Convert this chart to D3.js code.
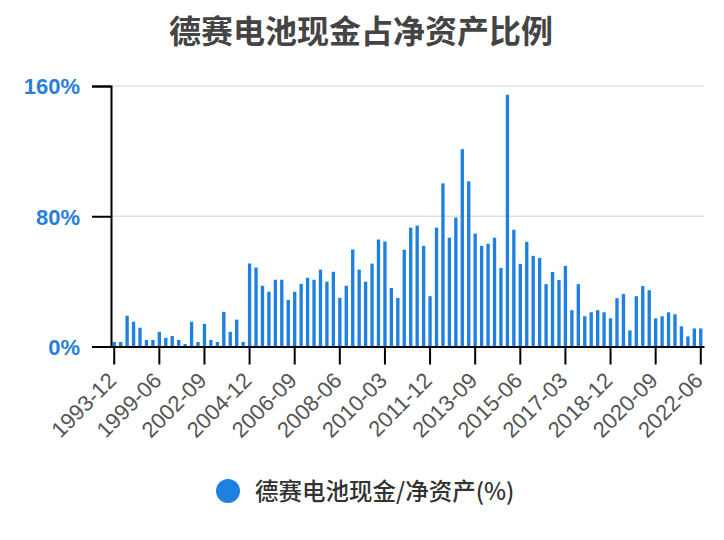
<!DOCTYPE html>
<html><head><meta charset="utf-8">
<script src="https://cdn.jsdelivr.net/npm/d3@7/dist/d3.min.js"></script>
<style>
body{margin:0;background:#fff;}
svg{display:block;font-family:"Liberation Sans","Noto Sans CJK SC",Arial,sans-serif;}
</style></head><body>
<svg id="chart" width="724" height="540"></svg>
<script>
const title = "德赛电池现金占净资产比例";
const seriesName = "德赛电池现金/净资产(%)";
const categories = [
"1993-12","1994-12","1995-12","1996-12","1997-12","1998-06","1998-12","1999-06","1999-12","2000-06",
"2000-12","2001-06","2001-12","2002-06","2002-09","2002-12","2003-06","2003-09","2003-12","2004-06",
"2004-09","2004-12","2005-03","2005-06","2005-09","2005-12","2006-03","2006-06","2006-09","2006-12",
"2007-03","2007-06","2007-09","2007-12","2008-03","2008-06","2008-09","2008-12","2009-03","2009-06",
"2009-09","2009-12","2010-03","2010-06","2010-09","2010-12","2011-03","2011-06","2011-09","2011-12",
"2012-03","2012-06","2012-09","2012-12","2013-03","2013-06","2013-09","2013-12","2014-03","2014-06",
"2014-09","2014-12","2015-03","2015-06","2015-09","2015-12","2016-03","2016-06","2016-09","2016-12",
"2017-03","2017-06","2017-09","2017-12","2018-03","2018-06","2018-09","2018-12","2019-03","2019-06",
"2019-09","2019-12","2020-03","2020-06","2020-09","2020-12","2021-03","2021-06","2021-09","2021-12",
"2022-03","2022-06"];
const values = [
2.8,2.8,18.9,15.2,11.5,4.0,4.0,9.0,5.3,6.5,
4.0,1.5,15.2,2.8,13.9,4.0,2.8,21.3,9.0,16.5,
2.8,51.0,48.5,37.3,33.6,41.0,41.0,28.6,33.6,38.5,
42.2,41.0,47.2,39.8,45.9,29.9,37.3,59.6,47.2,39.8,
50.9,65.7,64.5,36.0,29.8,59.4,73.0,74.2,61.8,30.9,
73.0,100.2,66.8,79.2,121.2,101.4,69.3,61.8,63.1,66.8,
48.2,154.6,71.7,50.7,64.3,55.7,54.4,38.3,45.8,40.8,
49.5,22.3,38.3,18.6,21.0,22.3,21.0,17.3,29.7,32.2,
9.9,30.9,37.1,34.6,17.3,18.6,21.0,19.8,12.4,6.2,
11.1,11.1];
const yTicks = [0,80,160];
const xTickLabels = ["1993-12","1999-06","2002-09","2004-12","2006-09","2008-06","2010-03","2011-12","2013-09","2015-06","2017-03","2018-12","2020-09","2022-06"];

const svg = d3.select("#chart");
const mLeft = 111, mRight = 704, mTop = 86, mBottom = 346.5;
const blue = "#2080e0";

const x = d3.scaleBand().domain(categories).range([mLeft, mRight]).paddingInner(0.48).paddingOuter(0.24);
const y = d3.scaleLinear().domain([0,160]).range([mBottom, mTop]);

// title
svg.append("text").attr("x",361).attr("y",43).attr("text-anchor","middle")
  .attr("font-family","'Noto Sans CJK SC',sans-serif").attr("font-weight","bold")
  .attr("font-size",32).attr("fill","#444").text(title);

// gridlines
svg.append("g").selectAll("line").data(yTicks.filter(d=>d>0)).join("line")
  .attr("x1",mLeft).attr("x2",mRight).attr("y1",d=>y(d)).attr("y2",d=>y(d))
  .attr("stroke","#e0e0e0").attr("stroke-width",1.5);

// bars
svg.append("g").selectAll("rect").data(values).join("rect")
  .attr("x",(d,i)=>x(categories[i])).attr("width",x.bandwidth())
  .attr("y",d=>y(d)).attr("height",d=>mBottom-y(d)).attr("fill",blue);

// y axis
const yAxis = d3.axisLeft(y).tickValues(yTicks).tickSize(19).tickPadding(12).tickFormat(d=>d+"%");
const gy = svg.append("g").attr("transform",`translate(${mLeft},0)`).call(yAxis);
gy.select(".domain").attr("stroke","#000").attr("stroke-width",2);
gy.selectAll(".tick line").attr("stroke","#000").attr("stroke-width",2);
gy.selectAll(".tick text").attr("fill","#2a7fd6").attr("font-size",22).attr("font-weight","bold")
  .attr("font-family","'Liberation Sans',Arial,sans-serif").attr("dy","0.36em");

// x axis
const xAxis = d3.axisBottom(x).tickValues(xTickLabels).tickSize(18).tickPadding(6).tickSizeOuter(0);
const gx = svg.append("g").attr("transform",`translate(0,${mBottom})`).call(xAxis);
gx.select(".domain").attr("stroke","#000").attr("stroke-width",2);
gx.selectAll(".tick line").attr("stroke","#000").attr("stroke-width",2);
gx.selectAll(".tick text").attr("fill","#555").attr("font-size",22)
  .attr("font-family","'Liberation Sans',Arial,sans-serif")
  .attr("text-anchor","end").attr("dy","0.35em")
  .attr("transform","translate(-2,30) rotate(-45)").attr("y",0).attr("x",0);

// legend
const lg = svg.append("g");
lg.append("circle").attr("cx",228).attr("cy",491).attr("r",12).attr("fill",blue);
lg.append("text").attr("x",255).attr("y",500)
  .attr("font-family","'Noto Sans CJK SC',sans-serif").attr("font-weight",500)
  .attr("font-size",23.5).attr("fill","#333").text(seriesName);
</script>
</body></html>
